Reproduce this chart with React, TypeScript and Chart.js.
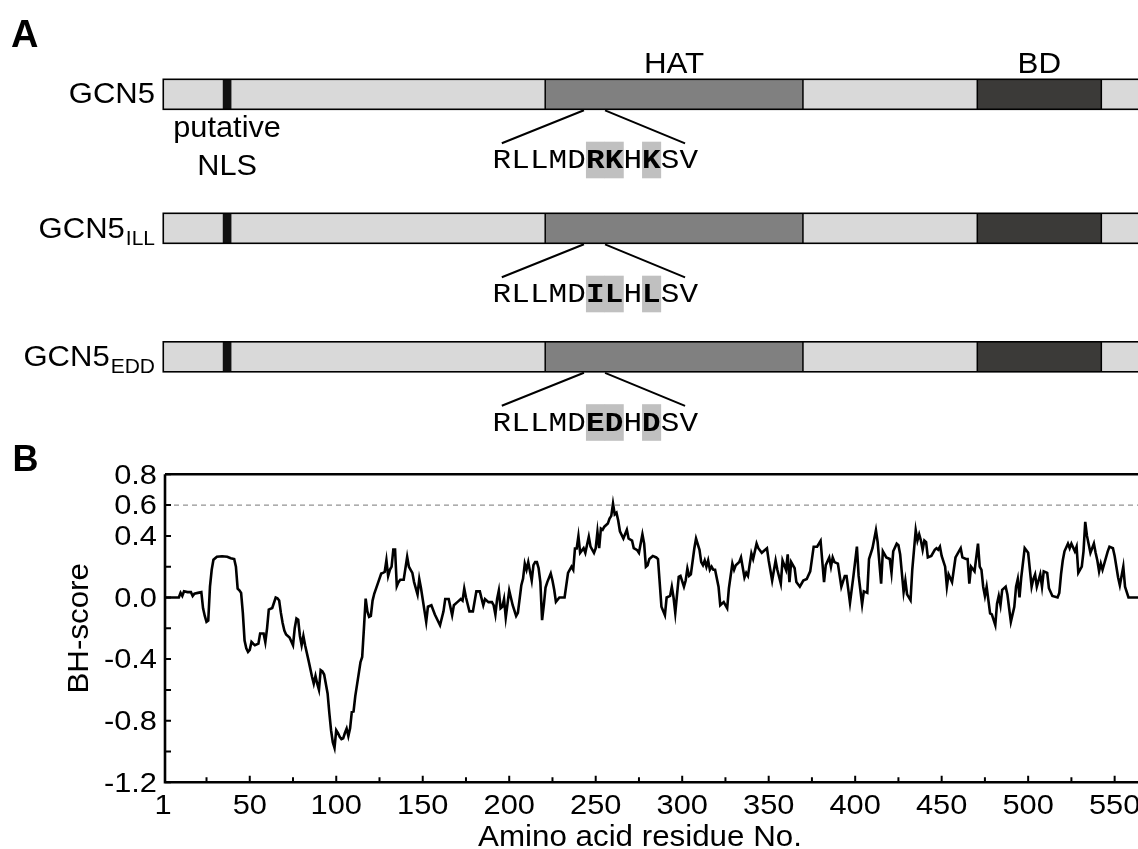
import React, { useEffect, useRef } from 'react';
import { Chart, registerables } from 'chart.js';

Chart.register(...registerables);

// ---------- DATA ----------
const residues = [
  1, 5, 9, 10, 11, 12, 14, 16, 17, 18, 20, 22, 23, 24, 25, 26, 27, 28, 29, 31, 34, 37, 39, 41, 42, 43, 44, 45, 46, 47, 48, 49, 50,
  51, 52, 53, 55, 56, 58, 59, 60, 61, 63, 65, 66, 67, 68, 69, 70, 71, 73, 75, 76, 77, 78, 79, 80, 81, 82, 84, 86, 87, 88, 89, 90,
  91, 92, 93, 95, 96, 97, 98, 99, 100, 101, 102, 103, 104, 105, 106, 107, 108, 109, 110, 111, 113, 114, 115, 116, 117, 118, 119, 120,
  121, 122, 123, 124, 126, 127, 128, 129, 130, 131, 132, 133, 134, 135, 136, 137, 139, 141, 142, 143, 144, 145, 147, 148, 149, 152,
  153, 155, 157, 160, 162, 163, 165, 167, 168, 170, 172, 173, 174, 175, 177, 179, 181, 183, 185, 186, 188, 190, 191, 192, 193, 194,
  195, 196, 197, 198, 200, 202, 204, 205, 206, 207, 208, 209, 210, 211, 212, 213, 214, 215, 216, 217, 218, 219, 220, 221, 222, 224,
  225, 226, 227, 229, 232, 234, 236, 237, 238, 239, 240, 241, 243, 244, 246, 247, 249, 250, 251, 252, 253, 254, 255, 257, 258, 259,
  260, 261, 262, 263, 264, 266, 268, 269, 271, 272, 274, 275, 277, 278, 279, 280, 281, 283, 285, 286, 288, 290, 291, 293, 294, 295,
  296, 298, 299, 301, 302, 303, 304, 305, 307, 308, 310, 311, 312, 313, 314, 315, 316, 317, 318, 319, 321, 322, 324, 326, 327, 329,
  330, 331, 333, 334, 336, 337, 338, 340, 341, 343, 344, 346, 347, 349, 350, 352, 354, 355, 357, 358, 360, 361, 362, 363, 365, 366,
  368, 370, 372, 374, 376, 378, 380, 382, 383, 385, 386, 387, 388, 390, 392, 394, 395, 397, 399, 401, 402, 404, 405, 407, 408, 410,
  412, 413, 415, 416, 418, 420, 421, 422, 424, 425, 426, 428, 429, 430, 432, 433, 435, 436, 437, 438, 439, 440, 441, 442, 444, 446,
  447, 448, 449, 450, 452, 453, 454, 456, 457, 458, 461, 462, 464, 465, 466, 467, 469, 471, 472, 473, 474, 475, 476, 478, 479, 481,
  482, 483, 484, 485, 487, 488, 489, 490, 492, 493, 494, 495, 496, 498, 500, 502, 503, 504, 505, 507, 508, 509, 511, 512, 514, 517,
  518, 519, 520, 521, 523, 524, 525, 527, 528, 529, 531, 532, 533, 534, 536, 537, 538, 539, 540, 541, 542, 543, 546, 547, 549, 550,
  552, 553, 555, 556, 558, 563.5,
];

const scores = [
  0.0, 0.0, 0.0, 0.03, 0.01, 0.04, 0.035, 0.035, 0.01, 0.025, 0.03, 0.035, -0.07, -0.12, -0.158, -0.15, 0.07, 0.18, 0.245, 0.265, 0.268, 0.265, 0.255, 0.25, 0.2, 0.058, 0.047, 0.03, -0.1, -0.28, -0.33, -0.353, -0.34,
  -0.288, -0.3, -0.31, -0.3, -0.234, -0.234, -0.29, -0.2, -0.078, -0.068, 0.0, -0.005, -0.02, -0.1, -0.165, -0.215, -0.24, -0.26, -0.31, -0.2, -0.137, -0.145, -0.25, -0.31, -0.25, -0.31, -0.41, -0.515, -0.56, -0.51, -0.56, -0.6,
  -0.472, -0.48, -0.5, -0.623, -0.75, -0.862, -0.94, -0.977, -0.862, -0.88, -0.905, -0.92, -0.915, -0.88, -0.851, -0.9, -0.85, -0.743, -0.74, -0.64, -0.494, -0.42, -0.386, -0.2, -0.007, -0.09, -0.126, -0.12,
  -0.02, 0.026, 0.058, 0.09, 0.156, 0.16, 0.166, 0.242, 0.14, 0.18, 0.2, 0.312, 0.312, 0.073, 0.1, 0.115, 0.115, 0.264, 0.2, 0.18, 0.16, 0.1, 0.02, 0.12, 0.06, -0.158,
  -0.06, -0.05, -0.11, -0.18, -0.09, -0.01, -0.01, -0.115, -0.05, -0.03, -0.01, -0.02, 0.058, 0.0, -0.09, -0.09, 0.04, 0.04, -0.05, -0.01, -0.03, -0.03, -0.05, -0.11, -0.01, 0.045,
  -0.07, -0.06, -0.01, -0.13, 0.045, -0.05, -0.12, -0.1, -0.01, 0.08, 0.123, 0.22, 0.18, 0.23, 0.17, 0.11, 0.21, 0.23, 0.23, 0.19, 0.1, -0.147, -0.05, 0.065, 0.1, 0.156,
  0.11, 0.05, -0.028, 0.0, 0.0, 0.16, 0.2, 0.18, 0.318, 0.318, 0.398, 0.29, 0.32, 0.29, 0.394, 0.33, 0.29, 0.32, 0.426, 0.32, 0.448, 0.44, 0.46, 0.48, 0.513, 0.53,
  0.61, 0.54, 0.55, 0.5, 0.43, 0.383, 0.44, 0.383, 0.37, 0.32, 0.307, 0.29, 0.41, 0.35, 0.2, 0.21, 0.25, 0.27, 0.26, 0.25, -0.06, -0.115, 0.0, 0.01, 0.07, 0.0,
  -0.1, 0.134, 0.14, 0.07, 0.11, 0.188, 0.14, 0.15, 0.318, 0.383, 0.31, 0.23, 0.21, 0.24, 0.2, 0.24, 0.18, 0.2, 0.18, 0.18, 0.07, -0.05, -0.03, -0.07, 0.06, 0.22,
  0.18, 0.21, 0.23, 0.26, 0.13, 0.16, 0.14, 0.286, 0.25, 0.35, 0.32, 0.29, 0.3, 0.32, 0.24, 0.11, 0.24, 0.18, 0.09, 0.24, 0.18, 0.28, 0.1, 0.23, 0.19, 0.1,
  0.07, 0.11, 0.12, 0.17, 0.33, 0.33, 0.368, 0.1, 0.21, 0.26, 0.2, 0.26, 0.23, 0.22, 0.07, 0.14, 0.14, -0.035, 0.14, 0.33, 0.14, -0.045, 0.04, 0.03, 0.25, 0.32,
  0.437, 0.36, 0.09, 0.3, 0.26, 0.25, 0.16, 0.3, 0.35, 0.34, 0.28, 0.036, 0.11, 0.02, -0.018, 0.18, 0.437, 0.37, 0.41, 0.37, 0.31, 0.37, 0.36, 0.26, 0.27, 0.31,
  0.32, 0.31, 0.33, 0.27, 0.2, 0.07, 0.15, 0.1, 0.18, 0.26, 0.32, 0.26, 0.25, 0.25, 0.09, 0.2, 0.17, 0.35, 0.2, 0.18, 0.07, 0.01, 0.07, -0.104, -0.11, -0.18,
  -0.04, 0.01, -0.05, 0.05, 0.07, 0.02, -0.07, -0.158, -0.06, 0.07, 0.12, 0.0, 0.13, 0.32, 0.29, 0.07, 0.12, 0.15, 0.07, 0.15, 0.07, 0.17, 0.16, 0.06, 0.01, 0.0,
  0.03, 0.15, 0.24, 0.3, 0.35, 0.32, 0.35, 0.3, 0.33, 0.16, 0.2, 0.3, 0.491, 0.4, 0.29, 0.32, 0.35, 0.29, 0.24, 0.17, 0.22, 0.18, 0.3, 0.33, 0.32, 0.27,
  0.13, 0.08, 0.2, 0.07, 0.0, 0.0,
];

const thresholdScore = 0.6;
const xMin = 1;
const xMax = 563.5;
const yMin = -1.2;
const yMax = 0.8;
const xMajorTicks = [1, 50, 100, 150, 200, 250, 300, 350, 400, 450, 500, 550];
const xTickLabels = ['1', '50', '100', '150', '200', '250', '300', '350', '400', '450', '500', '550'];
const xMinorTicks = [25, 75, 125, 175, 225, 275, 325, 375, 425, 475, 525];
const yTicks = [-1.2, -1.0, -0.8, -0.6, -0.4, -0.2, 0.0, 0.2, 0.4, 0.6, 0.8];
const yLabelValues = [-1.2, -0.8, -0.4, 0.0, 0.4, 0.6, 0.8];
const yTickLabels = ['-1.2', '-0.8', '-0.4', '0.0', '0.4', '0.6', '0.8'];
const xTitle = 'Amino acid residue No.';
const yTitle = 'BH-score';

// Panel A data
const proteinLength = 600;
const constructNames = ['GCN5', 'GCN5', 'GCN5'];
const constructSubscripts = ['', 'ILL', 'EDD'];
const domainNames = ['NLS', 'HAT', 'BD'];
const domainStarts = [34.4, 220.8, 470.6];
const domainEnds = [39.4, 369.8, 542.3];
const motifStart = 243.2;
const motifEnd = 255.4;
const motifSequences = ['RLLMDRKHKSV', 'RLLMDILHLSV', 'RLLMDEDHDSV'];
const mutatedPositions = [5, 6, 8];

// ---------- STYLE ----------
const SANS = "'Liberation Sans', Arial, Helvetica, sans-serif";
const MONO = "'Liberation Mono', 'Courier New', monospace";
const domainFill = ['#111111', '#808080', '#3b3a38'];
const barFill = '#d9d9d9';
const highlightFill = '#c0c0c0';
const barTops = [79.3, 213.3, 341.8];
const barHeight = 30;

function drawText(
  ctx: CanvasRenderingContext2D,
  text: string,
  x: number,
  y: number,
  align: 'left' | 'center' | 'right',
  font: string,
  sx = 1.08,
  baseline: CanvasTextBaseline = 'alphabetic'
) {
  ctx.save();
  ctx.font = font;
  ctx.textBaseline = baseline;
  ctx.textAlign = 'left';
  const w = ctx.measureText(text).width * sx;
  let left = x;
  if (align === 'center') left = x - w / 2;
  else if (align === 'right') left = x - w;
  ctx.translate(left, y);
  ctx.scale(sx, 1);
  ctx.fillStyle = '#000';
  ctx.fillText(text, 0, 0);
  ctx.restore();
  return w;
}

const figurePlugin = {
  id: 'figurePlugin',
  afterDraw(chart: any) {
    const ctx: CanvasRenderingContext2D = chart.ctx;
    const xs = chart.scales.x;
    const ys = chart.scales.y;
    const area = chart.chartArea;

    ctx.save();
    // ---------- Panel B axes ----------
    ctx.strokeStyle = '#000';
    ctx.lineWidth = 2.6;
    ctx.beginPath();
    ctx.moveTo(area.left, area.top);
    ctx.lineTo(area.left, area.bottom);
    ctx.lineTo(area.right + 2, area.bottom);
    ctx.moveTo(area.left, area.top);
    ctx.lineTo(area.right + 2, area.top);
    ctx.stroke();

    ctx.lineWidth = 2;
    ctx.beginPath();
    yTicks.forEach((v) => {
      const py = ys.getPixelForValue(v);
      ctx.moveTo(area.left, py);
      ctx.lineTo(area.left + 6, py);
    });
    xMajorTicks.forEach((v) => {
      if (v === 1) return;
      const px = xs.getPixelForValue(v);
      ctx.moveTo(px, area.bottom);
      ctx.lineTo(px, area.bottom - 6.5);
    });
    xMinorTicks.forEach((v) => {
      const px = xs.getPixelForValue(v);
      ctx.moveTo(px, area.bottom);
      ctx.lineTo(px, area.bottom - 5);
    });
    ctx.stroke();

    const tickFont = `28px ${SANS}`;
    yLabelValues.forEach((v, i) => {
      drawText(ctx, yTickLabels[i], area.left - 8, ys.getPixelForValue(v) + 1.5, 'right', tickFont, 1.1, 'middle');
    });
    xMajorTicks.forEach((v, i) => {
      drawText(ctx, xTickLabels[i], xs.getPixelForValue(v) - (v === 1 ? 2 : 0), area.bottom + 31.5, 'center', tickFont, 1.1);
    });

    drawText(ctx, xTitle, 640, 846, 'center', `29px ${SANS}`, 1.08);
    ctx.save();
    ctx.translate(87.5, (area.top + area.bottom) / 2);
    ctx.rotate(-Math.PI / 2);
    drawText(ctx, yTitle, 0, 0, 'center', `29px ${SANS}`, 1.08);
    ctx.restore();

    // Panel letters
    drawText(ctx, 'A', 11, 46.5, 'left', `bold 38px ${SANS}`, 1.0);
    drawText(ctx, 'B', 12.5, 470.5, 'left', `bold 36px ${SANS}`, 1.0);

    // ---------- Panel A ----------
    const labelFont = `29px ${SANS}`;
    const subFont = `20px ${SANS}`;
    const barLeft = xs.getPixelForValue(0);
    const barRight = xs.getPixelForValue(proteinLength);
    const cw = 18.7;
    const seqLen = motifSequences[0].length;
    const mStartPx = xs.getPixelForValue(motifStart);
    const mEndPx = xs.getPixelForValue(motifEnd);
    const seqCenter = (mStartPx + mEndPx) / 2 + 0.8;
    const x0 = seqCenter - (seqLen * cw) / 2;

    constructNames.forEach((name, ci) => {
      const top = barTops[ci];
      const bottom = top + barHeight;
      ctx.fillStyle = barFill;
      ctx.fillRect(barLeft, top, barRight - barLeft, barHeight);
      domainNames.forEach((dn, di) => {
        const a = xs.getPixelForValue(domainStarts[di]);
        const b = xs.getPixelForValue(domainEnds[di]);
        ctx.fillStyle = domainFill[di];
        ctx.fillRect(a, top, b - a, barHeight);
        if (di > 0) {
          ctx.strokeStyle = '#000';
          ctx.lineWidth = 1.5;
          ctx.beginPath();
          ctx.moveTo(a, top);
          ctx.lineTo(a, bottom);
          ctx.moveTo(b, top);
          ctx.lineTo(b, bottom);
          ctx.stroke();
        }
      });
      ctx.strokeStyle = '#000';
      ctx.lineWidth = 1.6;
      ctx.strokeRect(barLeft, top, barRight - barLeft, barHeight);

      // construct label
      const sub = constructSubscripts[ci];
      const labelRight = 155;
      if (sub) {
        const sw = drawText(ctx, sub, labelRight, bottom + 1.3, 'right', subFont, 1.05);
        drawText(ctx, name, labelRight - sw - 1, top + 24.6, 'right', labelFont, 1.07);
      } else {
        drawText(ctx, name, labelRight, top + 23.4, 'right', labelFont, 1.07);
      }

      // motif callout lines
      ctx.strokeStyle = '#000';
      ctx.lineWidth = 2;
      ctx.beginPath();
      ctx.moveTo(mStartPx, bottom + 1);
      ctx.lineTo(x0 + 0.5 * cw, bottom + 34);
      ctx.moveTo(mEndPx, bottom + 1);
      ctx.lineTo(x0 + (seqLen - 0.7) * cw, bottom + 34);
      ctx.stroke();

      // highlights
      ctx.fillStyle = highlightFill;
      mutatedPositions.forEach((p) => {
        ctx.fillRect(x0 + p * cw, bottom + 32.4, cw + 0.4, 36.6);
      });
      // sequence
      const seq = motifSequences[ci];
      for (let k = 0; k < seq.length; k++) {
        const bold = mutatedPositions.includes(k);
        drawText(ctx, seq[k], x0 + k * cw + cw / 2, bottom + 59, 'center', `${bold ? 'bold ' : ''}28px ${MONO}`, 1.107);
      }
    });

    // domain names above first bar
    const hatMid = (xs.getPixelForValue(domainStarts[1]) + xs.getPixelForValue(domainEnds[1])) / 2;
    const bdMid = (xs.getPixelForValue(domainStarts[2]) + xs.getPixelForValue(domainEnds[2])) / 2;
    drawText(ctx, domainNames[1], hatMid, 72.7, 'center', labelFont, 1.08);
    drawText(ctx, domainNames[2], bdMid, 72.7, 'center', labelFont, 1.08);
    const nlsMid = (xs.getPixelForValue(domainStarts[0]) + xs.getPixelForValue(domainEnds[0])) / 2;
    drawText(ctx, 'putative', nlsMid, 136.7, 'center', labelFont, 1.06);
    drawText(ctx, domainNames[0], nlsMid, 175, 'center', labelFont, 1.06);

    ctx.restore();
  },
};

export default function App() {
  const canvasRef = useRef<HTMLCanvasElement | null>(null);

  useEffect(() => {
    const canvas = canvasRef.current;
    if (!canvas) return;
    const chart = new Chart(canvas, {
      type: 'line',
      data: {
        datasets: [
          {
            label: 'BH-score',
            data: residues.map((r, i) => ({ x: r, y: scores[i] })),
            borderColor: '#000',
            borderWidth: 2.6,
            pointRadius: 0,
            tension: 0,
            fill: false,
          },
          {
            label: 'threshold',
            data: [
              { x: xMin, y: thresholdScore },
              { x: xMax, y: thresholdScore },
            ],
            borderColor: '#939393',
            borderWidth: 1.2,
            borderDash: [5, 4],
            pointRadius: 0,
            fill: false,
          },
        ],
      },
      options: {
        responsive: false,
        animation: false,
        devicePixelRatio: 1,
        layout: { padding: { left: 165, top: 474.3, right: 0, bottom: 849 - 782.3 } },
        plugins: { legend: { display: false }, tooltip: { enabled: false } },
        scales: {
          x: { type: 'linear', min: xMin, max: xMax, display: false },
          y: { type: 'linear', min: yMin, max: yMax, display: false },
        },
      },
      plugins: [figurePlugin],
    } as any);
    return () => chart.destroy();
  }, []);

  return (
    <div style={{ position: 'fixed', left: 0, top: 0, width: 1138, height: 849, background: '#fff' }}>
      <canvas ref={canvasRef} width={1138} height={849} style={{ display: 'block' }} />
    </div>
  );
}
